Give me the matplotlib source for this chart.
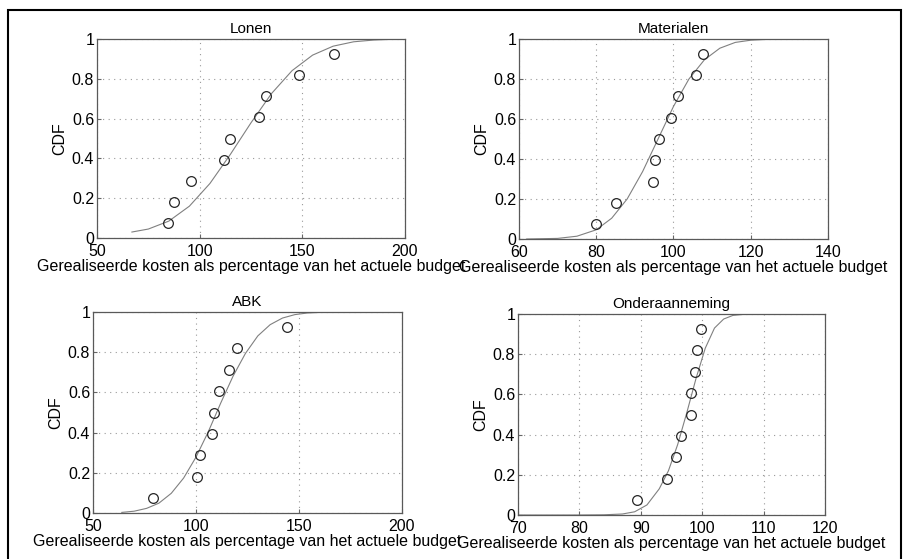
import matplotlib
matplotlib.use('Agg')
import matplotlib.pyplot as plt
from matplotlib.patches import Rectangle

plt.rcParams['font.family'] = ['Liberation Sans', 'DejaVu Sans']

# Data
ranks = [0.074, 0.181, 0.287, 0.394, 0.5, 0.606, 0.713, 0.819, 0.926]

lonen_pts = [84.5, 87.5, 96, 112, 114.7, 129, 132.2, 148.6, 165.6]
lonen_cx = [67, 75, 85, 95, 105, 115, 125, 135, 145, 155, 165, 175, 185, 195]
lonen_cy = [0.03, 0.045, 0.085, 0.16, 0.274, 0.421, 0.579, 0.726, 0.841,
            0.919, 0.964, 0.986, 0.995, 0.999]

mat_pts = [80, 85, 94.7, 95.2, 96.3, 99.4, 101.2, 105.9, 107.7]
mat_cx = [62, 70, 75, 80, 84, 88, 92, 96, 100, 104, 108, 112, 116, 120, 124, 130]
mat_cy = [0.0, 0.003, 0.014, 0.046, 0.104, 0.2, 0.337, 0.5, 0.663, 0.8,
          0.896, 0.954, 0.983, 0.994, 0.998, 1.0]

abk_pts = [79, 100.3, 101.9, 107.6, 108.5, 111.1, 115.8, 119.9, 144]
abk_cx = [64, 70, 76, 82, 88, 94, 100, 106, 112, 118, 124, 130, 136, 142,
          148, 154, 160]
abk_cy = [0.003, 0.009, 0.023, 0.049, 0.098, 0.174, 0.278, 0.405, 0.547,
          0.681, 0.794, 0.881, 0.937, 0.97, 0.987, 0.995, 0.998]

ond_pts = [89.3, 94.3, 95.7, 96.5, 98.1, 98.2, 98.9, 99.1, 99.8]
ond_cx = [70, 80, 84, 87, 89, 91, 93, 94.5, 96, 97.5, 99, 100.5, 102, 103.5,
          105, 107, 110]
ond_cy = [0.0, 0.0, 0.001, 0.005, 0.016, 0.05, 0.13, 0.22, 0.35, 0.51, 0.68,
          0.83, 0.93, 0.975, 0.993, 0.999, 1.0]

titles = ['Lonen', 'Materialen', 'ABK', 'Onderaanneming']
xticks = [[50, 100, 150, 200], [60, 80, 100, 120, 140],
          [50, 100, 150, 200], [70, 80, 90, 100, 110, 120]]
yticks = [0, 0.2, 0.4, 0.6, 0.8, 1]
ytick_labels = ['0', '0.2', '0.4', '0.6', '0.8', '1']
xlabel = 'Gerealiseerde kosten als percentage van het actuele budget'

points = [lonen_pts, mat_pts, abk_pts, ond_pts]
curves_x = [lonen_cx, mat_cx, abk_cx, ond_cx]
curves_y = [lonen_cy, mat_cy, abk_cy, ond_cy]

W, H = 904, 559
fig = plt.figure(figsize=(W / 100, H / 100), dpi=100)

# axes boxes in pixels: left, top, right, bottom
boxes = [(97, 39, 405, 238), (519, 39, 828, 239),
         (93, 312, 402, 513), (518, 314, 825, 515)]

fs = 11.5
for i in range(4):
    l, t, r, b = boxes[i]
    ax = fig.add_axes([l / W, 1 - b / H, (r - l) / W, (b - t) / H])
    ax.plot(curves_x[i], curves_y[i], '-', color='0.5', lw=0.8)
    ax.plot(points[i], ranks, 'o', mfc='none', mec='0.15', ms=7, mew=0.9)
    ax.set_xlim(xticks[i][0], xticks[i][-1])
    ax.set_ylim(0, 1)
    ax.set_xticks(xticks[i])
    ax.set_yticks(yticks)
    ax.set_yticklabels(ytick_labels)
    ax.tick_params(direction='in', length=3, labelsize=fs, color='0.4', pad=2)
    ax.tick_params(axis='x', pad=4)
    ax.grid(True, linestyle=(0, (1, 4)), color='0.6', lw=0.8)
    for s in ax.spines.values():
        s.set_color('0.35')
        s.set_linewidth(0.9)
    ax.set_title(titles[i], fontsize=fs - 0.5, pad=4)
    ax.set_ylabel('CDF', fontsize=fs, labelpad=3)
    ax.set_xlabel(xlabel, fontsize=fs, labelpad=0)

# frame around the scanned figure
fig.add_artist(Rectangle((8 / W, -0.01), (901 - 8) / W, 1.01 - 10 / H,
                         transform=fig.transFigure, fill=False,
                         edgecolor='black', lw=1.5))

fig.savefig('out.png', dpi=100)
